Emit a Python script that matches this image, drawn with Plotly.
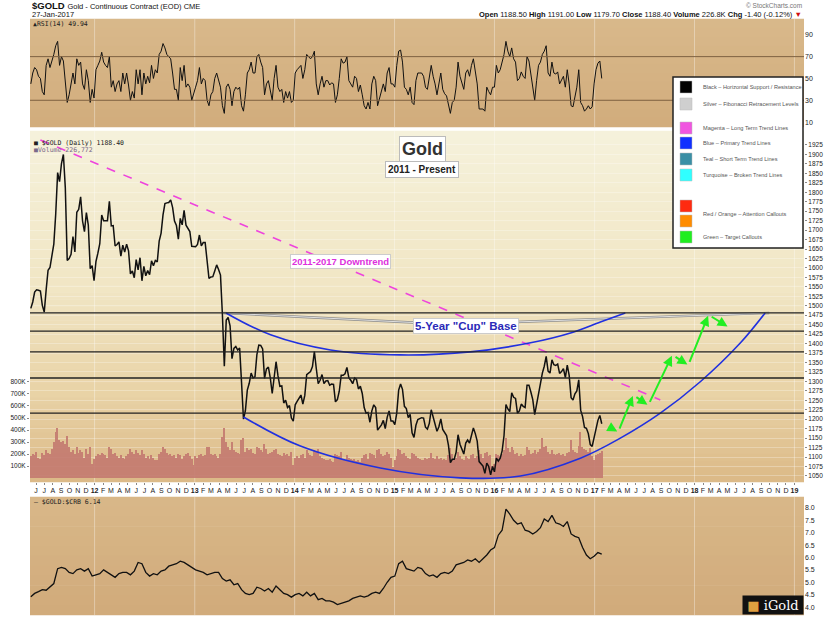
import plotly.graph_objects as go
import pandas as pd

# ---------------- DATA ----------------
# Weekly closes of $GOLD (continuous contract), ending 27-Jan-2017
close = [
    # 2011
    1493, 1510, 1536, 1542, 1541, 1539, 1501, 1483, 1542, 1594, 1601, 1628, 1663, 1743, 1852, 1828, 1876,
    1900, 1812, 1620, 1625, 1636, 1683, 1642, 1747, 1755, 1788, 1724, 1696, 1746, 1713, 1598, 1606, 1566,
    # 2012
    1617, 1639, 1664, 1740, 1725, 1725, 1725, 1776, 1711, 1712, 1658, 1662, 1669, 1631, 1660, 1642, 1663,
    1645, 1584, 1592, 1574, 1622, 1595, 1627, 1566, 1604, 1579, 1593, 1582, 1619, 1606, 1620, 1616, 1671,
    1692, 1740, 1770, 1772, 1773, 1780, 1760, 1724, 1712, 1676, 1731, 1714, 1752, 1713, 1705, 1696, 1657, 1656,
    # 2013
    1656, 1662, 1687, 1658, 1667, 1667, 1609, 1572, 1576, 1577, 1592, 1608, 1596, 1581, 1476, 1340, 1462,
    1469, 1447, 1360, 1387, 1392, 1383, 1388, 1296, 1200, 1223, 1277, 1295, 1322, 1309, 1312, 1371, 1396,
    1395, 1386, 1308, 1333, 1338, 1309, 1268, 1315, 1352, 1315, 1287, 1288, 1243, 1250, 1231, 1236, 1203, 1195,
    # 2014
    1238, 1247, 1254, 1264, 1240, 1263, 1318, 1323, 1326, 1339, 1379, 1334, 1294, 1303, 1318, 1294, 1301,
    1302, 1290, 1293, 1292, 1246, 1252, 1274, 1316, 1316, 1320, 1337, 1310, 1303, 1294, 1309, 1305, 1280,
    1287, 1268, 1231, 1216, 1218, 1192, 1222, 1238, 1231, 1171, 1177, 1185, 1197, 1175, 1205, 1222, 1195, 1195,
    # 2015
    1186, 1216, 1277, 1293, 1279, 1234, 1228, 1204, 1213, 1164, 1152, 1184, 1199, 1201, 1204, 1203, 1179,
    1174, 1189, 1225, 1205, 1190, 1168, 1180, 1201, 1173, 1163, 1157, 1131, 1085, 1094, 1094, 1113, 1159,
    1134, 1121, 1108, 1137, 1145, 1137, 1156, 1177, 1162, 1142, 1088, 1081, 1076, 1057, 1084, 1075, 1053, 1075,
    # 2016
    1061, 1097, 1089, 1097, 1116, 1157, 1239, 1227, 1220, 1270, 1258, 1255, 1216, 1222, 1240, 1234, 1231,
    1290, 1290, 1272, 1252, 1212, 1243, 1275, 1294, 1322, 1340, 1366, 1327, 1322, 1357, 1344, 1342, 1346,
    1321, 1326, 1334, 1310, 1343, 1316, 1257, 1251, 1267, 1275, 1304, 1224, 1207, 1178, 1176, 1162, 1133, 1128, 1152,
    # 2017
    1173, 1197, 1210, 1188,
]

# Weekly RSI(14) readings
rsi = [
    45, 55, 60, 58, 52, 50, 38, 35, 62, 68, 60, 65, 72, 80, 84, 62, 70, 66, 45, 28, 35, 45, 55, 45, 68, 62,
    65, 45, 40, 58, 48, 28, 40, 32,
    58, 62, 66, 74, 65, 62, 60, 70, 42, 48, 38, 45, 48, 38, 55, 45, 55, 44, 30, 38, 32, 58, 45, 58, 35, 55,
    45, 52, 46, 62, 50, 58, 55, 72, 75, 82, 78, 72, 70, 68, 55, 40, 40, 30, 60, 48, 62, 42, 45, 42, 30, 35,
    42, 48, 60, 45, 50, 48, 30, 25, 35, 38, 50, 55, 48, 42, 25, 18, 42, 45, 40, 25, 38, 42, 40, 42, 25, 20,
    35, 55, 58, 65, 55, 55, 70, 72, 65, 60, 35, 45, 48, 40, 30, 50, 62, 42, 38, 40, 28, 38, 32, 38, 28, 30,
    55, 58, 60, 62, 50, 58, 72, 70, 68, 70, 75, 45, 35, 45, 52, 42, 48, 48, 44, 46, 45, 28, 35, 50, 68, 64,
    65, 70, 48, 45, 42, 52, 50, 38, 44, 35, 25, 22, 28, 22, 45, 52, 48, 25, 32, 38, 45, 38, 55, 60, 45, 45,
    42, 62, 75, 76, 65, 42, 40, 35, 42, 28, 26, 48, 55, 55, 55, 52, 42, 40, 50, 62, 52, 45, 35, 45, 55, 40,
    36, 34, 25, 18, 28, 30, 42, 65, 52, 45, 40, 55, 58, 52, 62, 68, 55, 45, 22, 22, 22, 20, 42, 38, 35, 42,
    42, 62, 55, 58, 64, 72, 84, 75, 70, 78, 68, 65, 48, 50, 56, 52, 50, 70, 66, 55, 45, 30, 48, 62, 65, 72,
    75, 80, 55, 52, 65, 55, 54, 56, 45, 48, 52, 42, 58, 45, 25, 24, 35, 42, 58, 28, 25, 20, 22, 25, 22, 24, 45,
    58, 64, 66, 50,
]

# Weekly peak daily volume (thousands of contracts)
volume_k = [
    180, 200, 190, 220, 170, 160, 210, 190, 230, 210, 200, 240, 300, 380, 420, 320, 300, 310, 280, 350, 260,
    220, 230, 200, 260, 210, 230, 220, 170, 240, 200, 260, 120, 160,
    180, 200, 190, 210, 200, 190, 170, 260, 240, 200, 210, 180, 170, 190, 170, 160, 180, 200, 240, 220, 200,
    230, 210, 190, 230, 200, 170, 180, 160, 190, 170, 150, 150, 200, 220, 260, 240, 210, 190, 200, 180, 190,
    170, 200, 190, 160, 180, 200, 210, 180, 160, 110,
    180, 170, 190, 200, 180, 190, 260, 260, 200, 190, 200, 180, 170, 200, 340, 420, 300, 260, 230, 300, 230,
    220, 210, 200, 320, 330, 220, 250, 230, 240, 210, 200, 260, 250, 230, 220, 280, 240, 200, 210, 220, 230,
    240, 200, 190, 180, 210, 190, 200, 180, 220, 110,
    170, 180, 170, 190, 200, 170, 230, 210, 190, 180, 230, 220, 240, 180, 170, 160, 150, 150, 160, 140, 130,
    200, 190, 180, 220, 160, 150, 190, 170, 160, 150, 160, 140, 150, 130, 170, 190, 200, 160, 210, 200, 190,
    170, 230, 240, 200, 180, 190, 220, 200, 170, 90,
    150, 180, 240, 230, 200, 210, 180, 170, 160, 210, 200, 180, 170, 160, 150, 150, 170, 160, 170, 210, 170,
    160, 180, 160, 170, 150, 160, 150, 190, 250, 200, 160, 170, 220, 180, 160, 150, 180, 170, 160, 190, 200,
    170, 180, 230, 200, 170, 210, 220, 180, 190, 100,
    120, 200, 190, 180, 200, 230, 330, 250, 220, 260, 230, 200, 210, 180, 200, 180, 190, 260, 230, 200, 210,
    230, 200, 220, 240, 330, 260, 270, 220, 200, 230, 200, 190, 200, 210, 190, 200, 180, 210, 220, 320, 230,
    220, 210, 270, 380, 260, 240, 230, 220, 250, 180, 150,
    190, 200, 210, 227,
]

# Bi-weekly $GOLD:$CRB ratio
ratio = [
    4.42, 4.55, 4.62, 4.70, 4.68, 4.80, 4.95, 5.55, 5.60, 5.55, 5.40, 5.35, 5.50, 5.55, 5.45, 5.55, 5.25,
    5.30, 5.35, 5.50, 5.40, 5.30, 5.20, 5.35, 5.40, 5.40, 5.30, 5.45, 5.80, 5.75, 5.40, 5.25, 5.35, 5.30,
    5.45, 5.50, 5.65, 5.70, 5.75, 5.85, 5.80, 5.70, 5.60,
    5.50, 5.45, 5.40, 5.30, 5.35, 5.40, 5.40, 5.15, 5.05, 5.10, 4.90, 4.95, 4.70, 4.55, 4.50, 4.55, 4.80,
    4.75, 4.65, 4.75, 4.60, 4.85, 4.70, 4.55, 4.50, 4.40,
    4.50, 4.55, 4.45, 4.60, 4.45, 4.55, 4.30, 4.35, 4.25, 4.25, 4.20, 4.10, 4.15, 4.20, 4.25, 4.35, 4.40,
    4.45, 4.40, 4.45, 4.55, 4.60, 4.55, 4.75, 5.00, 5.20,
    5.25, 5.75, 5.85, 5.55, 5.50, 5.45, 5.60, 5.55, 5.35, 5.25, 5.30, 5.20, 5.35, 5.40, 5.35, 5.45, 5.70,
    5.75, 5.80, 5.90, 5.85, 5.95, 5.80, 5.95, 6.10, 6.30,
    6.40, 6.90, 7.10, 7.95, 7.75, 7.50, 7.35, 7.40, 7.10, 7.05, 6.95, 7.05, 7.20, 7.55, 7.45, 7.70, 7.40,
    7.35, 7.25, 7.45, 6.95, 6.85, 6.80, 6.40, 6.10, 5.95, 6.05,
    6.20, 6.14,
]

support_levels = [1481, 1433, 1378, 1309, 1216]

downtrend_dates = ["2011-06-17", "2017-08-29"]
downtrend_prices = [1938, 1251]

cup_inner_dates = ["2013-04-25", "2013-10-05", "2014-05-12", "2015-01-22", "2015-10-05",
                   "2016-05-12", "2016-10-05", "2017-01-22", "2017-04-23"]
cup_inner_prices = [1481, 1423, 1383, 1370, 1378, 1402, 1428, 1457, 1481]

cup_outer_dates = ["2013-06-28", "2014-01-22", "2014-11-10", "2015-08-29", "2016-04-05",
                   "2016-11-10", "2017-04-05", "2017-08-29", "2018-01-22", "2018-06-18", "2018-09-16"]
cup_outer_prices = [1206, 1129, 1071, 1045, 1050, 1097, 1150, 1216, 1299, 1402, 1481]

rim_left_dates = ["2013-04-15", "2015-03-27"]
rim_left_prices = [1481, 1455]
rim_right_dates = ["2016-03-17", "2018-10-01"]
rim_right_prices = [1457, 1481]

target_dates = ["2017-02-10", "2017-03-28", "2017-05-22", "2017-07-16", "2017-10-12",
                "2017-12-09", "2018-02-21", "2018-05-05"]
target_prices = [1185, 1166, 1264, 1237, 1370, 1343, 1476, 1444]

legend_items = [
    ("Black \u2013 Horizontal Support / Resistance", "#000000"),
    ("Silver \u2013 Fibonacci Retracement Levels", "#cfcfcf"),
    ("Magenta \u2013 Long Term Trend Lines", "#f055e0"),
    ("Blue \u2013 Primary Trend Lines", "#1030ff"),
    ("Teal \u2013 Short Term Trend Lines", "#3a8fa5"),
    ("Turquoise \u2013 Broken Trend Lines", "#30ffff"),
    ("", "#ff2a10"),
    ("Red / Orange \u2013 Attention Callouts", "#ff8c00"),
    ("Green \u2013 Target Callouts", "#20ee20"),
]

# ---------------- LAYOUT HELPERS ----------------
W, H = 834, 623
ML, MR, MT, MB = 30, 30, 19, 8
PW = W - ML - MR
PH = H - MT - MB


def fx(x):
    return (x - ML) / PW


def fy(y):
    return (H - MB - y) / PH


RSI_T, RSI_B = 19, 127
MAIN_T, MAIN_B = 131, 482
BOT_T, BOT_B = 497, 615

week_dates = pd.date_range(end="2017-01-27", periods=len(close), freq="W-FRI")
rsi_dates = pd.date_range(end="2017-01-27", periods=len(rsi), freq="W-FRI")
vol_dates = pd.date_range(end="2017-01-27", periods=len(volume_k), freq="W-FRI")
ratio_dates = pd.date_range(end="2017-01-27", periods=len(ratio), freq="2W-FRI")

X0, X1 = "2011-05-10", "2019-02-05"
FONT = "Liberation Sans, Arial, sans-serif"

fig = go.Figure()

# RSI
fig.add_trace(go.Scatter(x=rsi_dates, y=rsi, mode="lines", line=dict(color="#111", width=1),
                         xaxis="x2", yaxis="y", hoverinfo="skip"))
# Volume
fig.add_trace(go.Bar(x=vol_dates, y=volume_k, marker=dict(color="#c47a70", line=dict(width=0)),
                     width=5 * 24 * 3600 * 1000, xaxis="x", yaxis="y2", opacity=0.9, hoverinfo="skip"))
# Price
fig.add_trace(go.Scatter(x=week_dates, y=close, mode="lines", line=dict(color="#111", width=1.5),
                         xaxis="x", yaxis="y3", hoverinfo="skip"))
# Downtrend
fig.add_trace(go.Scatter(x=downtrend_dates, y=downtrend_prices, mode="lines",
                         line=dict(color="#ee44dd", width=1.6, dash="dash"), xaxis="x", yaxis="y3"))
# Silver rim
for dd, pp in ((rim_left_dates, rim_left_prices), (rim_right_dates, rim_right_prices)):
    fig.add_trace(go.Scatter(x=dd, y=pp, mode="lines", line=dict(color="#8e8e8e", width=2.4),
                             xaxis="x", yaxis="y3"))
    fig.add_trace(go.Scatter(x=dd, y=pp, mode="lines", line=dict(color="#f4f4f4", width=0.8),
                             xaxis="x", yaxis="y3"))
# Cup curves
fig.add_trace(go.Scatter(x=cup_inner_dates, y=cup_inner_prices, mode="lines",
                         line=dict(color="#2030e0", width=1.6, shape="spline", smoothing=1.0),
                         xaxis="x", yaxis="y3"))
fig.add_trace(go.Scatter(x=cup_outer_dates, y=cup_outer_prices, mode="lines",
                         line=dict(color="#2030e0", width=1.6, shape="spline", smoothing=1.0),
                         xaxis="x", yaxis="y3"))
# Ratio
fig.add_trace(go.Scatter(x=ratio_dates, y=ratio, mode="lines", line=dict(color="#111", width=1.3),
                         xaxis="x3", yaxis="y4", hoverinfo="skip"))

shapes = []


def hexrgb(h):
    h = h.lstrip("#")
    return tuple(int(h[i:i + 2], 16) for i in (0, 2, 4))


def gradient(top, bot, stops, n=40):
    cols = [(p, hexrgb(c)) for p, c in stops]
    for i in range(n):
        t = (i + 0.5) / n
        for j in range(len(cols) - 1):
            if cols[j][0] <= t <= cols[j + 1][0]:
                a, ca = cols[j]
                b, cb = cols[j + 1]
                u = (t - a) / (b - a)
                c = tuple(int(ca[k] + (cb[k] - ca[k]) * u) for k in range(3))
                break
        y0 = top + (bot - top) * i / n
        y1 = top + (bot - top) * (i + 1) / n
        shapes.append(dict(type="rect", xref="paper", yref="paper", x0=0, x1=1,
                           y0=fy(y1) - 0.0005, y1=fy(y0) + 0.0005, line=dict(width=0),
                           fillcolor="rgb(%d,%d,%d)" % c, layer="below"))


gradient(RSI_T, RSI_B, [(0, "#d9b98b"), (1, "#d2ad7d")], 12)
gradient(MAIN_T, MAIN_B, [(0, "#f6f2dc"), (0.45, "#f1e6c4"), (0.75, "#e9d3a6"), (1, "#dcb987")], 50)
gradient(BOT_T, BOT_B, [(0, "#d9b889"), (1, "#d1ab7b")], 12)

# yearly vertical grid
for yr in range(2012, 2020):
    for (t, b) in ((RSI_T, RSI_B), (MAIN_T, MAIN_B), (BOT_T, BOT_B)):
        shapes.append(dict(type="line", xref="x", yref="paper", x0=f"{yr}-01-01", x1=f"{yr}-01-01",
                           y0=fy(b), y1=fy(t), line=dict(color="rgba(255,255,255,0.35)", width=1),
                           layer="below"))

# RSI 70/30 lines
for lvl in (70, 30):
    shapes.append(dict(type="line", xref="paper", yref="y", x0=0, x1=1, y0=lvl, y1=lvl,
                       line=dict(color="#7d6040", width=1)))

# support / resistance lines
for lvl in support_levels:
    shapes.append(dict(type="line", xref="paper", yref="y3", x0=0, x1=1, y0=lvl, y1=lvl,
                       line=dict(color="#222", width=1.3)))

# legend box
LX0, LY0, LX1, LY1 = 673, 77, 803, 248
shapes.append(dict(type="rect", xref="paper", yref="paper", x0=fx(LX0), x1=fx(LX1),
                   y0=fy(LY1), y1=fy(LY0), fillcolor="white", line=dict(color="#222", width=1.5)))
leg_y = [87, 104, 128, 143, 159, 175, 206, 221, 237]
annotations = []
for (lab, col), yy in zip(legend_items, leg_y):
    shapes.append(dict(type="rect", xref="paper", yref="paper", x0=fx(680), x1=fx(692),
                       y0=fy(yy + 6), y1=fy(yy - 6), fillcolor=col, line=dict(color="#bbb", width=0.5)))
    if lab:
        ty = yy if "Red" not in lab else 214
        annotations.append(dict(xref="paper", yref="paper", x=fx(701), y=fy(ty), text=lab,
                                showarrow=False, xanchor="left", yanchor="middle",
                                font=dict(family="Liberation Sans, sans-serif", size=5.6, color="#555")))

# iGold logo
annotations.append(dict(xref="paper", yref="paper", x=fx(804), y=fy(615), xanchor="right", yanchor="bottom",
                        text='<span style="color:#e0a040">\u25a0</span> iGold', showarrow=False,
                        width=60, height=18, align="center", bgcolor="#111", borderpad=0,
                        font=dict(family="DejaVu Serif, serif", size=13, color="white")))

# header texts
annotations += [
    dict(xref="paper", yref="paper", x=fx(30), y=fy(6), xanchor="left", yanchor="middle", showarrow=False,
         text="<b>$GOLD</b> <span style='font-size:7.5px'>Gold - Continuous Contract (EOD) CME</span>",
         font=dict(family=FONT, size=9.5, color="#111")),
    dict(xref="paper", yref="paper", x=fx(30), y=fy(15), xanchor="left", yanchor="middle", showarrow=False,
         text="27-Jan-2017", font=dict(family=FONT, size=7.5, color="#111")),
    dict(xref="paper", yref="paper", x=fx(804), y=fy(6), xanchor="right", yanchor="middle", showarrow=False,
         text="\u00a9 StockCharts.com", font=dict(family=FONT, size=6.5, color="#777")),
    dict(xref="paper", yref="paper", x=fx(804), y=fy(15), xanchor="right", yanchor="middle", showarrow=False,
         text="<b>Open</b> 1188.50 <b>High</b> 1191.00 <b>Low</b> 1179.70 <b>Close</b> 1188.40 "
              "<b>Volume</b> 226.8K <b>Chg</b> -1.40 (-0.12%) <span style='color:#d01010'>\u25bc</span>",
         font=dict(family=FONT, size=7.5, color="#111")),
    dict(xref="paper", yref="paper", x=fx(31), y=fy(24), xanchor="left", yanchor="middle", showarrow=False,
         text="\u25b2RSI(14) 49.94", font=dict(family="DejaVu Sans Mono, monospace", size=6.5, color="#222")),
    dict(xref="paper", yref="paper", x=fx(32), y=fy(143), xanchor="left", yanchor="middle", showarrow=False,
         text="\u25a0 $GOLD (Daily) 1188.40", font=dict(family="DejaVu Sans Mono, monospace", size=6.5, color="#222")),
    dict(xref="paper", yref="paper", x=fx(32), y=fy(150), xanchor="left", yanchor="middle", showarrow=False,
         text="\u25a0Volume 226,772", font=dict(family="DejaVu Sans Mono, monospace", size=6.5, color="#7a6a8a")),
    dict(xref="paper", yref="paper", x=fx(32), y=fy(502), xanchor="left", yanchor="middle", showarrow=False,
         text="\u2014 $GOLD:$CRB 6.14", font=dict(family="DejaVu Sans Mono, monospace", size=6.5, color="#222")),
    # titles
    dict(xref="paper", yref="paper", x=fx(422), y=fy(136), showarrow=False, text="<b>Gold</b>",
         font=dict(family=FONT, size=18, color="#333"), bgcolor="white", bordercolor="#bbb",
         borderwidth=1, borderpad=2),
    dict(xref="paper", yref="paper", x=fx(422), y=fy(161), showarrow=False, text="<b>2011 - Present</b>",
         font=dict(family=FONT, size=10, color="#222"), bgcolor="white", bordercolor="#bbb",
         borderwidth=1, borderpad=2),
    dict(xref="paper", yref="paper", x=fx(340), y=fy(261), showarrow=False, text="<b>2011-2017 Downtrend</b>",
         font=dict(family=FONT, size=9.5, color="#dd30dd"), bgcolor="white", bordercolor="#ccc",
         borderwidth=1, borderpad=1),
    dict(xref="paper", yref="paper", x=fx(466), y=fy(326), showarrow=False, text="<b>5-Year \"Cup\" Base</b>",
         font=dict(family=FONT, size=11.5, color="#2a2ab8"), bgcolor="white", bordercolor="#ccc",
         borderwidth=1, borderpad=1),
]

# green target arrows
for i in range(len(target_dates) - 1):
    annotations.append(dict(x=target_dates[i + 1], y=target_prices[i + 1], ax=target_dates[i],
                            ay=target_prices[i], xref="x", yref="y3", axref="x", ayref="y3",
                            text="", showarrow=True, arrowhead=2, arrowsize=1, arrowwidth=2,
                            arrowcolor="#22ee22", standoff=1, startstandoff=2))

# monthly ticks
months = pd.date_range("2011-06-01", "2019-01-01", freq="MS")
letters = "JFMAMJJASOND"
tick_text = [("<b>%02d</b>" % (m.year % 100)) if m.month == 1 else letters[m.month - 1] for m in months]

price_ticks = list(range(1050, 1926, 25))

fig.update_layout(
    width=W, height=H, margin=dict(l=ML, r=MR, t=MT, b=MB),
    paper_bgcolor="white", plot_bgcolor="rgba(0,0,0,0)", showlegend=False,
    font=dict(family=FONT, size=7, color="#222"),
    bargap=0,
    xaxis=dict(domain=[0, 1], anchor="y2", type="date", range=[X0, X1], tickmode="array",
               tickvals=list(months), ticktext=tick_text, tickangle=0,
               tickfont=dict(size=7, color="#222"), ticks="outside", ticklen=2, tickcolor="#888",
               showgrid=False, zeroline=False, showline=False),
    xaxis2=dict(domain=[0, 1], anchor="y", matches="x", type="date", showticklabels=False,
                showgrid=False, zeroline=False),
    xaxis3=dict(domain=[0, 1], anchor="y4", matches="x", type="date", showticklabels=False,
                showgrid=False, zeroline=False),
    yaxis=dict(domain=[fy(RSI_B), fy(RSI_T)], range=[5.5, 104.5], side="right", tickmode="array",
               tickvals=[10, 30, 50, 70, 90], tickfont=dict(size=7), showgrid=False, zeroline=False,
               ticks="", fixedrange=True),
    yaxis2=dict(domain=[fy(MAIN_B), fy(MAIN_T)], range=[-33, 2890], side="left", tickmode="array",
                tickvals=[100, 200, 300, 400, 500, 600, 700, 800],
                ticktext=["100K", "200K", "300K", "400K", "500K", "600K", "700K", "800K"],
                tickfont=dict(size=6.5), showgrid=False, zeroline=False, ticks="outside", ticklen=2,
                tickcolor="#888"),
    yaxis3=dict(overlaying="y2", anchor="x", range=[1034, 1962], side="right", tickmode="array",
                tickvals=price_ticks, tickfont=dict(size=6.5), showgrid=True,
                gridcolor="rgba(255,255,255,0.28)", gridwidth=1, zeroline=False, ticks="outside",
                ticklen=2, tickcolor="#888"),
    yaxis4=dict(domain=[fy(BOT_B), fy(BOT_T)], range=[3.68, 8.44], side="right", tickmode="array",
                tickvals=[4.0, 4.5, 5.0, 5.5, 6.0, 6.5, 7.0, 7.5, 8.0],
                ticktext=["4.0", "4.5", "5.0", "5.5", "6.0", "6.5", "7.0", "7.5", "8.0"],
                tickfont=dict(size=7), showgrid=False, zeroline=False),
    shapes=shapes,
    annotations=annotations,
)

fig.write_html("out.html")
